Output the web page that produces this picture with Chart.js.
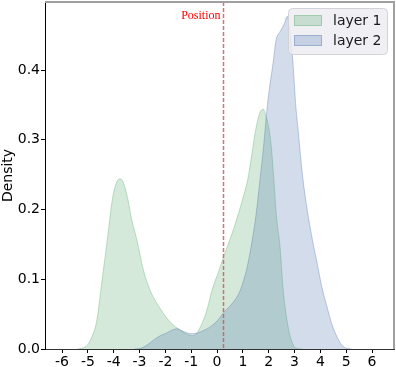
<!DOCTYPE html>
<html>
<head>
<meta charset="utf-8">
<script src="https://cdn.jsdelivr.net/npm/chart.js@4.4.1/dist/chart.umd.min.js"></script>
<style>
  html, body { margin: 0; padding: 0; background: #fff; }
  #wrap { width: 396px; height: 367px; }
</style>
</head>
<body>
<div id="wrap"><canvas id="kde" width="396" height="367"></canvas></div>
<script>
// --- dados ---
const seriesNames = ['layer 1', 'layer 2'];

const layer1X = [-5.4, -5.1, -4.85, -4.65, -4.45, -4.25, -4.05, -3.9, -3.75, -3.6, -3.45, -3.3, -3.1, -2.85, -2.6, -2.2, -1.82, -1.43, -1.15, -0.97, -0.78, -0.58, -0.39, -0.19, 0.05, 0.25, 0.45, 0.65, 0.85, 1.0, 1.2, 1.35, 1.5, 1.65, 1.78, 1.9, 2.0, 2.1, 2.2, 2.3, 2.44, 2.56, 2.75, 2.9, 3.05, 3.3];
const layer1Y = [0, 0.003, 0.017, 0.042, 0.099, 0.156, 0.215, 0.238, 0.244, 0.236, 0.214, 0.185, 0.156, 0.113, 0.085, 0.058, 0.039, 0.027, 0.021, 0.019, 0.023, 0.037, 0.056, 0.085, 0.11, 0.132, 0.152, 0.173, 0.197, 0.216, 0.245, 0.28, 0.315, 0.338, 0.344, 0.333, 0.318, 0.29, 0.242, 0.19, 0.146, 0.085, 0.032, 0.01, 0.001, 0];

const layer2X = [-3.2, -2.95, -2.7, -2.45, -2.2, -1.95, -1.75, -1.55, -1.35, -1.15, -0.95, -0.75, -0.5, -0.25, 0.0, 0.25, 0.6, 0.85, 1.0, 1.15, 1.3, 1.5, 1.66, 1.8, 1.95, 2.05, 2.17, 2.28, 2.44, 2.6, 2.72, 2.82, 2.92, 3.06, 3.14, 3.21, 3.33, 3.5, 3.7, 3.88, 4.05, 4.26, 4.45, 4.65, 4.8, 4.95, 5.2];
const layer2Y = [0, 0.001, 0.006, 0.013, 0.019, 0.023, 0.027, 0.029, 0.026, 0.023, 0.022, 0.023, 0.027, 0.032, 0.04, 0.052, 0.066, 0.08, 0.095, 0.115, 0.143, 0.19, 0.242, 0.29, 0.35, 0.38, 0.41, 0.442, 0.455, 0.466, 0.477, 0.455, 0.42, 0.343, 0.314, 0.285, 0.242, 0.197, 0.155, 0.122, 0.09, 0.06, 0.035, 0.017, 0.007, 0.002, 0];

const xTicks = [-6, -5, -4, -3, -2, -1, 0, 1, 2, 3, 4, 5, 6];
const yTicks = [0, 0.1, 0.2, 0.3, 0.4];
const positionX = 0.25;
const positionLabel = 'Position';
const yTitle = 'Density';

// --- cores ---
const green = 'rgba(85, 168, 104, 0.25)';
const greenEdge = 'rgba(85, 168, 104, 0.35)';
const blue = 'rgba(76, 114, 176, 0.25)';
const blueEdge = 'rgba(76, 114, 176, 0.35)';
const fontFam = "'DejaVu Sans', sans-serif";

const toPoints = (xs, ys) => xs.map((x, i) => ({ x: x, y: ys[i] }));

// linha "Position", legenda e bordas de cima/direita
const extras = {
    id: 'extras',
    afterDatasetsDraw(chart) {
        const { ctx, chartArea, scales } = chart;
        const px = scales.x.getPixelForValue(positionX);
        ctx.save();
        ctx.strokeStyle = 'rgba(205, 92, 92, 0.85)';
        ctx.lineWidth = 1.5;
        ctx.setLineDash([4, 2]);
        ctx.beginPath();
        ctx.moveTo(px, chartArea.top);
        ctx.lineTo(px, chartArea.bottom);
        ctx.stroke();
        ctx.setLineDash([]);
        ctx.fillStyle = '#ff0000';
        ctx.font = "12px 'Liberation Serif', serif";
        ctx.textAlign = 'right';
        ctx.textBaseline = 'middle';
        ctx.fillText(positionLabel, px - 3, 16);
        ctx.restore();
    },
    afterDraw(chart) {
        const { ctx, chartArea } = chart;
        ctx.save();
        // bordas
        ctx.strokeStyle = '#a0a0a0';
        ctx.lineWidth = 2;
        ctx.beginPath();
        ctx.moveTo(chartArea.left, chartArea.top);
        ctx.lineTo(chartArea.right, chartArea.top);
        ctx.lineTo(chartArea.right, chartArea.bottom);
        ctx.stroke();

        // legenda
        const lx = 288, ly = 8, lw = 99, lh = 46;
        ctx.fillStyle = 'rgba(236, 236, 242, 0.85)';
        ctx.strokeStyle = '#d2d2d8';
        ctx.lineWidth = 1;
        ctx.beginPath();
        ctx.roundRect(lx + 0.5, ly + 0.5, lw, lh, 4);
        ctx.fill();
        ctx.stroke();
        const fills = [green, blue];
        const edges = [greenEdge, blueEdge];
        ctx.font = '14px ' + fontFam;
        ctx.textAlign = 'left';
        ctx.textBaseline = 'middle';
        seriesNames.forEach((name, i) => {
            const ry = 15 + i * 20;
            ctx.fillStyle = fills[i];
            ctx.fillRect(294, ry, 28, 11);
            ctx.strokeStyle = edges[i];
            ctx.strokeRect(294.5, ry + 0.5, 27, 10);
            ctx.fillStyle = '#1a1a1a';
            ctx.fillText(name, 333, ry + 6);
        });
        ctx.restore();
    }
};

new Chart(document.getElementById('kde').getContext('2d'), {
    type: 'line',
    data: {
        datasets: [
            {
                label: seriesNames[0], data: toPoints(layer1X, layer1Y),
                borderColor: greenEdge, backgroundColor: green, borderWidth: 1,
                fill: 'origin', pointRadius: 0, cubicInterpolationMode: 'monotone', order: 2
            },
            {
                label: seriesNames[1], data: toPoints(layer2X, layer2Y),
                borderColor: blueEdge, backgroundColor: blue, borderWidth: 1,
                fill: 'origin', pointRadius: 0, cubicInterpolationMode: 'monotone', order: 1
            }
        ]
    },
    options: {
        responsive: false, animation: false,
        layout: { padding: { top: 2, right: 2, left: 0, bottom: 0 } },
        plugins: { legend: { display: false }, tooltip: { enabled: false } },
        scales: {
            x: {
                type: 'linear', min: -6.66, max: 6.85,
                afterBuildTicks: (s) => { s.ticks = xTicks.map(v => ({ value: v })); },
                afterFit: (s) => { s.height = 18; s.paddingLeft = 0; s.paddingRight = 0; },
                grid: { drawOnChartArea: false, drawTicks: true, tickLength: 4, tickColor: '#000' },
                border: { color: '#333', width: 1 },
                ticks: { color: '#000', padding: 1, maxRotation: 0, font: { family: fontFam, size: 14 },
                    callback: (v) => String(v) }
            },
            y: {
                min: 0, max: 0.4975,
                afterBuildTicks: (s) => { s.ticks = yTicks.map(v => ({ value: v })); },
                afterFit: (s) => { s.width = 45; s.paddingTop = 0; s.paddingBottom = 0; },
                grid: { drawOnChartArea: false, drawTicks: true, tickLength: 4, tickColor: '#000' },
                border: { color: '#000', width: 1 },
                ticks: { color: '#000', padding: 1, font: { family: fontFam, size: 14 },
                    callback: (v) => v.toFixed(1) },
                title: { display: true, text: yTitle, color: '#000', padding: 0,
                    font: { family: fontFam, size: 14 } }
            }
        }
    },
    plugins: [extras]
});
</script>
</body>
</html>
